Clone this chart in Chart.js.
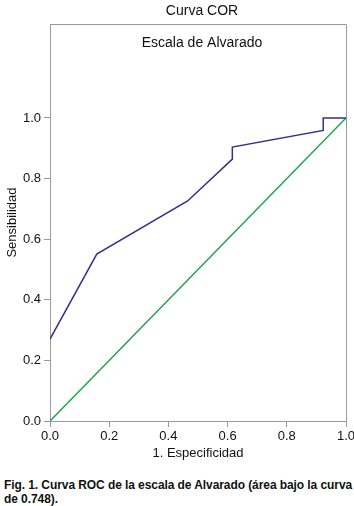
<!DOCTYPE html>
<html>
<head>
<meta charset="utf-8">
<script src="https://cdn.jsdelivr.net/npm/chart.js@4"></script>
<style>
    html, body { margin: 0; padding: 0; background: #fff; }
    #wrap { position: relative; width: 354px; height: 506px; overflow: hidden; }
    #rocChart { position: absolute; left: 0; top: 0; }
    #caption {
        position: absolute; left: 4px; top: 478px; width: 352px;
        font: bold 12px "Liberation Sans", Arial, sans-serif;
        letter-spacing: -0.08px; line-height: 14px; white-space: nowrap; color: #111;
    }
</style>
</head>
<body>
<div id="wrap">
    <canvas id="rocChart" width="354" height="470"></canvas>
    <div id="caption">Fig. 1. Curva ROC de la escala de Alvarado (área bajo la curva<br>de 0.748).</div>
</div>
<script>
    const chartTitle = 'Curva COR';
    const chartSubtitle = 'Escala de Alvarado';
    const xAxisLabel = '1. Especificidad';
    const yAxisLabel = 'Sensibilidad';
    const tickValues = [0, 0.2, 0.4, 0.6, 0.8, 1.0];

    // ROC curve points (1 - specificity, sensitivity)
    const falsePositiveRate = [0, 0.158, 0.465, 0.616, 0.616, 0.923, 0.923, 1.0];
    const truePositiveRate = [0.27, 0.551, 0.726, 0.864, 0.904, 0.959, 1.0, 1.0];
    // reference line
    const diagonalX = [0, 1];
    const diagonalY = [0, 1];

    const axisGrey = '#9a9a9a';
    const fontFamily = '"Liberation Sans", Arial, sans-serif';

    function toPoints(xs, ys) {
        return xs.map((x, i) => ({ x: x, y: ys[i] }));
    }

    const boxAndTitles = {
        id: 'boxAndTitles',
        afterDraw(chart) {
            const { ctx, chartArea } = chart;
            const cx = (chartArea.left + chartArea.right) / 2 + 4;
            ctx.save();
            ctx.strokeStyle = axisGrey;
            ctx.lineWidth = 1;
            ctx.beginPath();
            ctx.moveTo(chartArea.left, chartArea.top + 0.5);
            ctx.lineTo(chartArea.right + 0.5, chartArea.top + 0.5);
            ctx.lineTo(chartArea.right + 0.5, chartArea.bottom);
            ctx.stroke();
            ctx.fillStyle = '#111';
            ctx.textAlign = 'center';
            ctx.textBaseline = 'middle';
            ctx.font = '14px ' + fontFamily;
            ctx.fillText(chartTitle, cx, 11);
            ctx.fillText(chartSubtitle, cx, chartArea.top + 19);
            ctx.restore();
        }
    };

    const ctx = document.getElementById('rocChart').getContext('2d');
    new Chart(ctx, {
        type: 'scatter',
        data: {
            datasets: [
                {
                    label: 'Escala de Alvarado',
                    data: toPoints(falsePositiveRate, truePositiveRate),
                    showLine: true,
                    borderColor: '#2e3192',
                    borderWidth: 1.5,
                    pointRadius: 0,
                    fill: false
                },
                {
                    label: 'Referencia',
                    data: toPoints(diagonalX, diagonalY),
                    showLine: true,
                    borderColor: '#1fa34a',
                    borderWidth: 1.5,
                    pointRadius: 0,
                    fill: false
                }
            ]
        },
        options: {
            responsive: false,
            animation: false,
            layout: { padding: { top: 24, right: 8, left: 5, bottom: 9 } },
            plugins: {
                legend: { display: false },
                tooltip: { enabled: false }
            },
            scales: {
                x: {
                    type: 'linear',
                    min: 0,
                    max: 1,
                    afterBuildTicks: axis => { axis.ticks = tickValues.map(v => ({ value: v })); },
                    afterFit: axis => { axis.height = 40; axis.paddingRight = 0; axis.paddingLeft = 0; },
                    border: { color: axisGrey, width: 1 },
                    grid: { drawOnChartArea: false, color: axisGrey, tickLength: 6 },
                    ticks: {
                        color: '#111',
                        padding: 2,
                        font: { family: fontFamily, size: 13 },
                        callback: v => Number(v).toFixed(1)
                    },
                    title: {
                        display: true,
                        text: xAxisLabel,
                        color: '#111',
                        padding: { top: 0, bottom: 0 },
                        font: { family: fontFamily, size: 13 }
                    }
                },
                y: {
                    type: 'linear',
                    min: 0,
                    max: 1.31,
                    afterBuildTicks: axis => { axis.ticks = tickValues.map(v => ({ value: v })); },
                    afterFit: axis => { axis.width = 45; },
                    border: { color: axisGrey, width: 1 },
                    grid: { drawOnChartArea: false, color: axisGrey, tickLength: 6 },
                    ticks: {
                        color: '#111',
                        padding: 3,
                        font: { family: fontFamily, size: 13 },
                        callback: v => Number(v).toFixed(1)
                    },
                    title: {
                        display: true,
                        text: yAxisLabel,
                        color: '#111',
                        padding: { top: 0, bottom: 2 },
                        font: { family: fontFamily, size: 13 }
                    }
                }
            }
        },
        plugins: [boxAndTitles]
    });
</script>
</body>
</html>
